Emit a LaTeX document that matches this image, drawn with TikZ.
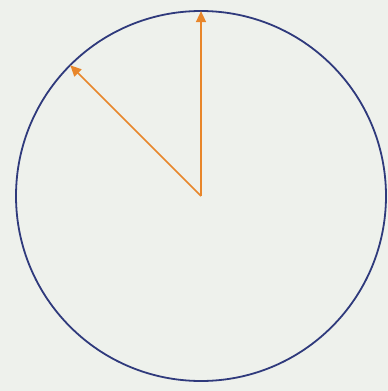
\documentclass[tikz,border=0pt]{standalone}
\usepackage{xcolor}
\usepackage{tikz}
\usetikzlibrary{arrows.meta}
\definecolor{DialBack}{HTML}{EEF1EC}
\definecolor{DialRim}{HTML}{2F3A7C}
\definecolor{DialHand}{HTML}{E8862A}
\begin{document}
\begin{tikzpicture}[x=1pt,y=-1pt,>={Triangle[length=11pt,width=10pt]}]
  \tikzstyle{rim}=[circle,draw=DialRim,line width=1.8pt,minimum size=370pt,inner sep=0pt]
  \tikzstyle{hand}=[->,color=DialHand,line width=1.6pt,shorten >=1pt]
  \fill[DialBack] (0,0) rectangle (388,391);
  \useasboundingbox (0,0) rectangle (388,391);
  \coordinate (o) at (201,196);
  \node[rim] (dial) at (o) {};
  \draw[hand] (o)--(dial.90);
  \draw[hand] (o)--(dial.135);
\end{tikzpicture}
\end{document}
